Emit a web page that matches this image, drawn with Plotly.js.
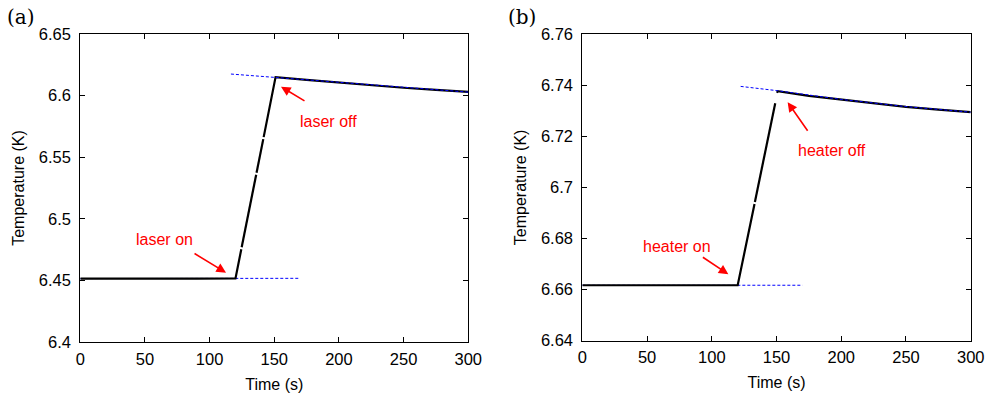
<!DOCTYPE html>
<html>
<head>
<meta charset="utf-8">
<script src="https://cdn.plot.ly/plotly-3.0.1.min.js"></script>
<style>html,body{margin:0;padding:0;background:#fff;}#chart{width:985px;height:401px;}</style>
</head>
<body>
<div id="chart"></div>
<script>
// ---- Panel (a): laser ----
var timeA = [0, 30, 60, 90, 120, 124.5, null, 124.8, 136, null, 136.3, 141.5, null, 141.8, 151, 175, 200, 225, 250, 275, 300];
var tempA = [6.4515, 6.4513, 6.4514, 6.4515, 6.4516, 6.4753, null, 6.4769, 6.5358, null, 6.5374, 6.5647, null, 6.5663, 6.615, 6.6128, 6.6105, 6.6084, 6.6064, 6.6046, 6.603];
var fitLowA_t = [0, 170];
var fitLowA_T = [6.4515, 6.4517];
var fitHighA_t = [116.5, 305];
var fitHighA_T = [6.6175, 6.6024];

// ---- Panel (b): heater ----
var timeB = [0, 30, 60, 90, 120, 133, null, 133.3, 149, null, 150.3, 151, 175, 200, 225, 250, 275, 300];
var tempB = [6.6617, 6.6617, 6.6617, 6.6617, 6.6617, 6.6935, null, 6.6943, 6.7329, null, 6.737, 6.7376, 6.7358, 6.7343, 6.7328, 6.7315, 6.7304, 6.7294];
var fitLowB_t = [0, 170];
var fitLowB_T = [6.6617, 6.6617];
var fitHighB_t = [122.3, 151, 200, 250, 300];
var fitHighB_T = [6.7395, 6.7378, 6.7344, 6.7316, 6.7294];

// ---- Tick labels ----
var xTicks = [0, 50, 100, 150, 200, 250, 300];
var yTicksA = [6.4, 6.45, 6.5, 6.55, 6.6, 6.65];
var yTicksAText = ['6.4', '6.45', '6.5', '6.55', '6.6', '6.65'];
var yTicksB = [6.64, 6.66, 6.68, 6.7, 6.72, 6.74, 6.76];
var yTicksBText = ['6.64', '6.66', '6.68', '6.7', '6.72', '6.74', '6.76'];

var blueDash = {color: '#0000ff', width: 1, dash: '3px,2px'};
var blackLine = {color: '#000000', width: 2.2};

var traces = [
  {x: fitLowA_t, y: fitLowA_T, mode: 'lines', line: blueDash, xaxis: 'x', yaxis: 'y'},
  {x: timeA, y: tempA, mode: 'lines', line: blackLine, connectgaps: false, xaxis: 'x', yaxis: 'y'},
  {x: fitHighA_t, y: fitHighA_T, mode: 'lines', line: blueDash, xaxis: 'x', yaxis: 'y'},
  {x: fitLowB_t, y: fitLowB_T, mode: 'lines', line: blueDash, xaxis: 'x2', yaxis: 'y2'},
  {x: timeB, y: tempB, mode: 'lines', line: blackLine, connectgaps: false, xaxis: 'x2', yaxis: 'y2'},
  {x: fitHighB_t, y: fitHighB_T, mode: 'lines', line: blueDash, xaxis: 'x2', yaxis: 'y2'}
];

var tickFont = {family: 'Liberation Sans, Arial, sans-serif', size: 16.5, color: '#000'};
var titleFont = {family: 'Liberation Sans, Arial, sans-serif', size: 16, color: '#000'};

function xax(domain, anchor) {
  return {
    domain: domain, anchor: anchor, range: [0, 300], tickvals: xTicks,
    ticks: 'inside', ticklen: 5, tickcolor: '#000', mirror: 'ticks',
    showline: true, linecolor: '#000', linewidth: 1, showgrid: false, zeroline: false,
    tickfont: tickFont, automargin: false, ticklabelstandoff: 2,
    title: {text: 'Time (s)', font: titleFont, standoff: 11}
  };
}
function yax(domain, anchor, range, vals, text) {
  return {
    domain: domain, anchor: anchor, range: range, tickvals: vals, ticktext: text,
    ticks: 'inside', ticklen: 5, tickcolor: '#000', mirror: 'ticks',
    showline: true, linecolor: '#000', linewidth: 1, showgrid: false, zeroline: false,
    tickfont: tickFont, automargin: false, ticklabelstandoff: 5,
    title: {text: 'Temperature (K)', font: titleFont, standoff: 10}
  };
}

var annFont = {family: 'Liberation Sans, Arial, sans-serif', size: 16, color: '#ff0000'};
var arrowBase = {showarrow: true, arrowhead: 2, arrowsize: 1.2, arrowwidth: 1.6, arrowcolor: '#ff0000', text: '', axref: 'pixel', ayref: 'pixel'};

var layout = {
  width: 985, height: 401,
  margin: {l: 0, r: 0, t: 0, b: 0},
  paper_bgcolor: '#fff', plot_bgcolor: '#fff',
  showlegend: false,
  xaxis: xax([0.0815, 0.4754], 'y'),
  yaxis: yax([0.1471, 0.9152], 'x', [6.4, 6.65], yTicksA, yTicksAText),
  xaxis2: xax([0.5912, 0.9855], 'y2'),
  yaxis2: yax([0.1504, 0.9152], 'x2', [6.64, 6.76], yTicksB, yTicksBText),
  annotations: [
    Object.assign({}, arrowBase, {xref: 'x', yref: 'y', x: 155.2, y: 6.6072, ax: 25, ay: 15}),
    Object.assign({}, arrowBase, {xref: 'x', yref: 'y', x: 112.7, y: 6.4563, ax: -33, ay: -20}),
    {xref: 'x', yref: 'y', x: 191.9, y: 6.5788, text: 'laser off', showarrow: false, font: annFont},
    {xref: 'x', yref: 'y', x: 65.1, y: 6.4836, text: 'laser on', showarrow: false, font: annFont},
    Object.assign({}, arrowBase, {xref: 'x2', yref: 'y2', x: 158.6, y: 6.7333, ax: 21, ay: 30}),
    Object.assign({}, arrowBase, {xref: 'x2', yref: 'y2', x: 112.8, y: 6.666, ax: -27, ay: -18}),
    {xref: 'x2', yref: 'y2', x: 192.6, y: 6.7146, text: 'heater off', showarrow: false, font: annFont},
    {xref: 'x2', yref: 'y2', x: 73.3, y: 6.6768, text: 'heater on', showarrow: false, font: annFont},
    {xref: 'paper', yref: 'paper', x: 5 / 985, y: 1 - 17 / 401, xanchor: 'left', yanchor: 'middle', text: '(a)', showarrow: false,
     font: {family: 'DejaVu Serif, Liberation Serif, serif', size: 20, color: '#000'}},
    {xref: 'paper', yref: 'paper', x: 506 / 985, y: 1 - 17 / 401, xanchor: 'left', yanchor: 'middle', text: '(b)', showarrow: false,
     font: {family: 'DejaVu Serif, Liberation Serif, serif', size: 20, color: '#000'}}
  ]
};

Plotly.newPlot('chart', traces, layout, {staticPlot: true, displayModeBar: false});
</script>
</body>
</html>
